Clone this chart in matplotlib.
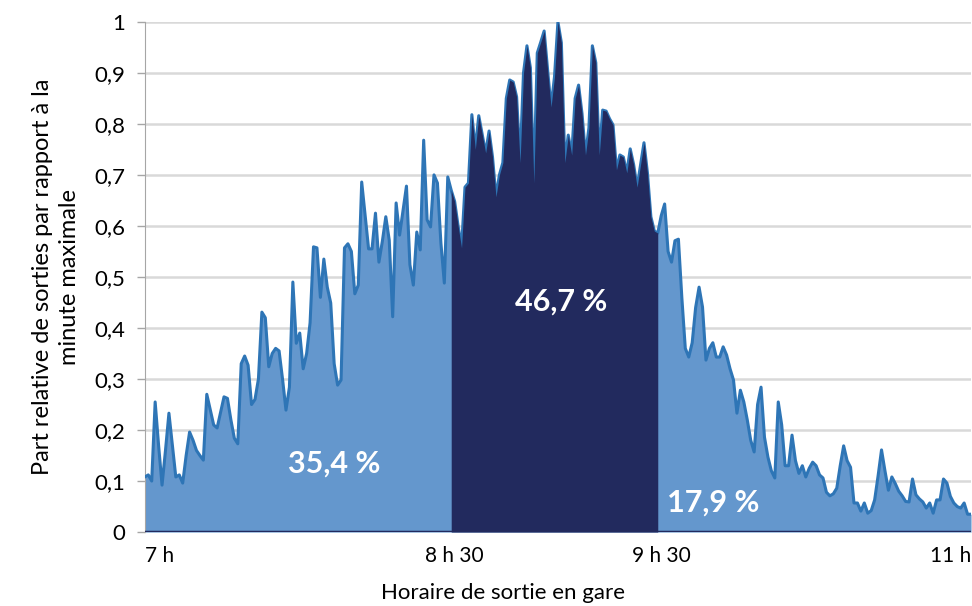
import matplotlib
matplotlib.use('Agg')
import matplotlib.pyplot as plt
import numpy as np

plt.rcParams['font.family'] = ['Lato', 'DejaVu Sans']

# part relative des sorties, une valeur par minute de 7 h a 11 h
parts = [
    0.108, 0.112, 0.100, 0.255, 0.170, 0.092, 0.160, 0.233, 0.170, 0.108,
    0.112, 0.096, 0.150, 0.196, 0.180, 0.160, 0.150, 0.141, 0.270, 0.240,
    0.210, 0.204, 0.235, 0.265, 0.262, 0.220, 0.184, 0.173, 0.330, 0.345,
    0.327, 0.250, 0.260, 0.300, 0.431, 0.420, 0.324, 0.350, 0.360, 0.355,
    0.300, 0.239, 0.284, 0.490, 0.370, 0.390, 0.320, 0.350, 0.410, 0.559,
    0.557, 0.460, 0.535, 0.480, 0.449, 0.330, 0.288, 0.298, 0.557, 0.565,
    0.550, 0.467, 0.484, 0.686, 0.620, 0.555, 0.555, 0.625, 0.529, 0.570,
    0.618, 0.572, 0.422, 0.645, 0.582, 0.630, 0.678, 0.524, 0.484, 0.588,
    0.553, 0.768, 0.612, 0.598, 0.700, 0.684, 0.567, 0.488, 0.696, 0.670,
    0.648, 0.600, 0.557, 0.676, 0.684, 0.818, 0.750, 0.816, 0.780, 0.743,
    0.786, 0.735, 0.657, 0.700, 0.724, 0.850, 0.886, 0.882, 0.853, 0.724,
    0.900, 0.953, 0.910, 0.684, 0.939, 0.960, 0.982, 0.906, 0.833, 0.892,
    1.000, 0.959, 0.724, 0.778, 0.739, 0.850, 0.876, 0.820, 0.739, 0.792,
    0.953, 0.920, 0.739, 0.827, 0.825, 0.810, 0.798, 0.710, 0.739, 0.735,
    0.704, 0.751, 0.720, 0.676, 0.720, 0.763, 0.704, 0.618, 0.590, 0.586,
    0.620, 0.643, 0.550, 0.529, 0.571, 0.574, 0.459, 0.360, 0.343, 0.371,
    0.440, 0.480, 0.441, 0.337, 0.360, 0.371, 0.343, 0.343, 0.363, 0.347,
    0.320, 0.298, 0.233, 0.278, 0.255, 0.220, 0.180, 0.157, 0.250, 0.284,
    0.186, 0.147, 0.120, 0.106, 0.255, 0.210, 0.130, 0.130, 0.190, 0.140,
    0.115, 0.130, 0.108, 0.125, 0.137, 0.130, 0.112, 0.106, 0.078, 0.071,
    0.075, 0.086, 0.130, 0.169, 0.140, 0.127, 0.057, 0.057, 0.041, 0.057,
    0.037, 0.042, 0.063, 0.110, 0.161, 0.120, 0.082, 0.108, 0.095, 0.080,
    0.071, 0.060, 0.059, 0.104, 0.073, 0.065, 0.059, 0.047, 0.057, 0.037,
    0.063, 0.063, 0.104, 0.096, 0.070, 0.057, 0.050, 0.047, 0.057, 0.035,
    0.035,
]
minutes = np.arange(len(parts))
pointe_debut, pointe_fin = 89, 149
tick_minutes = [0, 90, 150, 240]
tick_labels = ['7 h', '8 h 30', '9 h 30', '11 h']
shares = ['35,4 %', '46,7 %', '17,9 %']
share_pos = [(55, 0.135), (121, 0.451), (165, 0.057)]

light = '#6497cd'
line_c = '#2e75b6'
dark = '#222a5e'

y = np.array(parts)
fig = plt.figure(figsize=(9.72, 6.06), dpi=100)
ax = fig.add_axes([0.149, 0.122, 0.850, 0.842])

ax.fill_between(minutes, y, color=light, lw=0, zorder=2)
ax.plot(minutes, y, color=line_c, lw=2.2, zorder=3)
pointe = (minutes >= pointe_debut) & (minutes <= pointe_fin)
ax.fill_between(minutes[pointe], y[pointe], color=dark, lw=0, zorder=4)
ax.axhline(0, color=dark, lw=2.5, zorder=5)

for txt, (xx, yy) in zip(shares, share_pos):
    ax.text(xx, yy, txt, color='white', fontsize=22, fontweight='bold',
            ha='center', va='center', zorder=6)

ax.set_xlim(0, 240)
ax.set_ylim(0, 1)
ax.set_yticks(np.arange(0, 1.01, 0.1))
ax.set_yticklabels(['0'] + ['0,%d' % i for i in range(1, 10)] + ['1'])
ax.yaxis.grid(True, color='#d9d9d9', lw=1.8, zorder=0)
ax.set_axisbelow(True)
ax.set_xticks(tick_minutes)
ax.set_xticklabels(tick_labels)
xl = ax.get_xticklabels()
xl[0].set_ha('left')
xl[-1].set_ha('right')
ax.tick_params(axis='x', length=0, pad=10, labelsize=15)
ax.tick_params(axis='y', length=6, color='#a6a6a6', width=1, pad=8, labelsize=16)

for side in ['top', 'right', 'bottom']:
    ax.spines[side].set_visible(False)
ax.spines['left'].set_color('#a6a6a6')

ax.set_ylabel('Part relative de sorties par rapport à la\nminute maximale',
              fontsize=17, labelpad=10, linespacing=1.4)
fig.text(0.517, 0.022, 'Horaire de sortie en gare', fontsize=16,
         ha='center', va='center')

fig.savefig('out.png', dpi=100)
